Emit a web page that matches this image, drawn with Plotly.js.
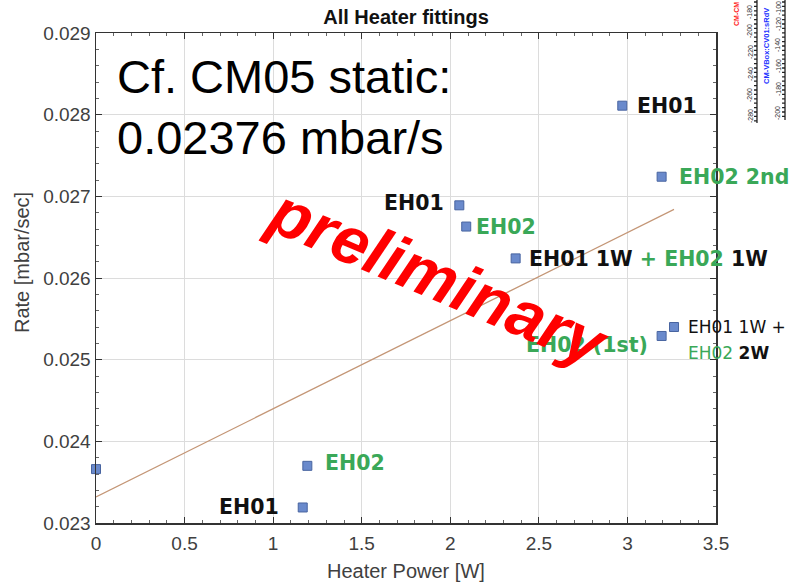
<!DOCTYPE html>
<html>
<head>
<meta charset="utf-8">
<script src="https://cdn.plot.ly/plotly-3.0.1.min.js"></script>
<style>
  html, body { margin: 0; padding: 0; background: #fff; }
  #chart { width: 790px; height: 583px; }
</style>
</head>
<body>
<div id="chart"></div>
<script>
// Leak rate vs. heater power, one point per heater fit
const powerW = [0, 1.193, 1.167, 2.051, 2.090, 2.369, 2.971, 3.193, 3.193, 3.263];
const rate   = [0.02366, 0.02370, 0.02319, 0.02689, 0.02663, 0.02624, 0.02811, 0.02724, 0.02529, 0.02540];

// Linear fit through the points (end values of the fitted line)
const fitPower = [0, 3.263];
const fitRate  = [0.02332, 0.02684];

// Axis ticks
const xTicks = [0, 0.5, 1, 1.5, 2, 2.5, 3, 3.5];
const yTicks = [0.023, 0.024, 0.025, 0.026, 0.027, 0.028, 0.029];

// Fragment of a neighbouring readout scale (top-right corner)
const scaleLeftLabels  = ['-280', '-260', '-240', '-220', '-200', '-180'];
const scaleRightLabels = ['-200', '-180', '-160', '-140', '-120', '-100'];

const GREEN = 'rgb(58,168,88)';
const INK = '#111';
const g = s => '<span style="color:' + GREEN + '">' + s + '</span>';

// Point labels: [point index, text, side, xshift, yshift, colour, size]
const labelSpecs = [
  [1, '<b>EH02</b>', 'left', 16, 3, GREEN, 20.5],
  [2, '<b>EH01</b>', 'right', -22, 0, INK, 20.5],
  [3, '<b>EH01</b>', 'right', -13, 2, INK, 20.5],
  [4, '<b>EH02</b>', 'left', 8, 0, GREEN, 20.5],
  [5, '<b>EH01 1W ' + g('+ EH02') + ' 1W</b>', 'left', 11, -1, INK, 20.5],
  [6, '<b>EH01</b>', 'left', 13, 0, INK, 20.5],
  [7, '<b>EH02 2nd</b>', 'left', 15, 0, GREEN, 20.5],
  [8, '<b>EH02 (1st)</b>', 'right', -12, -9, GREEN, 20.5],
  [9, 'EH01 1W +', 'left', 12, 0, INK, 17],
  [9, g('EH02') + ' <b>2W</b>', 'left', 12, -26, INK, 17]
];

// Plot-area geometry in pixels, used to place free-floating text
const L = 96, R = 716, T = 33, B = 523;
const px = x => (x - L) / (R - L);
const py = y => (B - y) / (B - T);

const annotations = labelSpecs.map(([i, text, side, xs, ys, color, size]) => ({
  x: powerW[i], y: rate[i], xref: 'x', yref: 'y',
  text: text, showarrow: false, align: 'left',
  xanchor: side, yanchor: 'middle', xshift: xs, yshift: ys,
  font: { family: 'DejaVu Sans', size: size, color: color }
}));

// Reference value note
annotations.push({
  xref: 'paper', yref: 'paper', x: px(115), y: py(77),
  xanchor: 'left', yanchor: 'middle', showarrow: false,
  text: 'Cf. CM05 static:',
  font: { family: 'Liberation Sans, Arial', size: 47, color: '#000' }
});
annotations.push({
  xref: 'paper', yref: 'paper', x: px(115), y: py(137),
  xanchor: 'left', yanchor: 'middle', showarrow: false,
  text: '0.02376 mbar/s',
  font: { family: 'Liberation Sans, Arial', size: 47, color: '#000' }
});

// Watermark
annotations.push({
  xref: 'paper', yref: 'paper', x: px(438), y: py(277),
  xanchor: 'center', yanchor: 'middle', showarrow: false,
  text: '<b><i>preliminary</i></b>', textangle: 23,
  font: { family: 'Liberation Sans, Arial', size: 66, color: '#ff0000' }
});

// Y-axis title
annotations.push({
  xref: 'paper', yref: 'paper', x: px(22), y: py(263),
  xanchor: 'center', yanchor: 'middle', showarrow: false,
  text: 'Rate [mbar/sec]', textangle: -90,
  font: { family: 'Liberation Sans, Arial', size: 20, color: '#404040' }
});

// X-axis title
annotations.push({
  xref: 'paper', yref: 'paper', x: px(406), y: py(571),
  xanchor: 'center', yanchor: 'middle', showarrow: false,
  text: 'Heater Power [W]',
  font: { family: 'Liberation Sans, Arial', size: 20, color: '#404040' }
});

// Corner scale fragment
const scaleLeftY = [116, 95, 74, 52, 31, 12];
const scaleRightY = [113, 89, 66, 45, 24, 8];
scaleLeftLabels.forEach((t, k) => annotations.push({
  xref: 'paper', yref: 'paper', x: px(750), y: py(scaleLeftY[k]),
  xanchor: 'center', yanchor: 'middle', showarrow: false, textangle: -90,
  text: t, font: { family: 'Liberation Sans, Arial', size: 7, color: '#333' }
}));
scaleRightLabels.forEach((t, k) => annotations.push({
  xref: 'paper', yref: 'paper', x: px(778), y: py(scaleRightY[k]),
  xanchor: 'center', yanchor: 'middle', showarrow: false, textangle: -90,
  text: t, font: { family: 'Liberation Sans, Arial', size: 7, color: '#333' }
}));
annotations.push({
  xref: 'paper', yref: 'paper', x: px(737), y: py(14),
  xanchor: 'center', yanchor: 'middle', showarrow: false, textangle: -90,
  text: '<b>CM-CM</b>', font: { family: 'Liberation Sans, Arial', size: 7, color: '#ff2020' }
});
annotations.push({
  xref: 'paper', yref: 'paper', x: px(767), y: py(46),
  xanchor: 'center', yanchor: 'middle', showarrow: false, textangle: -90,
  text: '<b>CM-VBox:CV01:sRdV</b>', font: { family: 'Liberation Sans, Arial', size: 7.5, color: '#2030ff' }
});

// Scale lines with ticks for the corner fragment
function scalePath(xLine, yEnd) {
  let d = 'M' + xLine + ',0 L' + xLine + ',' + yEnd;
  for (let y = 2; y <= yEnd; y += 4.4) {
    d += ' M' + (xLine - 3) + ',' + y.toFixed(1) + ' L' + xLine + ',' + y.toFixed(1);
  }
  return d;
}
function toPaperPath(d) {
  return d.replace(/(-?\d+(?:\.\d+)?),(-?\d+(?:\.\d+)?)/g,
    (m, a, b) => px(+a).toFixed(4) + ',' + py(+b).toFixed(4));
}
const shapes = [
  { type: 'path', xref: 'paper', yref: 'paper', path: toPaperPath(scalePath(757, 123)),
    line: { color: '#222', width: 1.3 } },
  { type: 'path', xref: 'paper', yref: 'paper', path: toPaperPath(scalePath(785, 120)),
    line: { color: '#222', width: 1.3 } }
];

const traces = [
  {
    x: fitPower, y: fitRate, type: 'scatter', mode: 'lines',
    line: { color: 'rgb(196,150,118)', width: 1.2 },
    hoverinfo: 'skip'
  },
  {
    x: powerW, y: rate, type: 'scatter', mode: 'markers',
    cliponaxis: false,
    marker: { symbol: 'square', size: 9, color: 'rgb(106,138,204)',
              line: { color: 'rgb(72,100,160)', width: 1 } }
  }
];

const axisFont = { family: 'Liberation Sans, Arial', size: 19, color: '#404040' };

const layout = {
  width: 790, height: 583,
  margin: { l: L, r: 790 - R, t: T, b: 583 - B },
  paper_bgcolor: '#fff', plot_bgcolor: '#fff',
  showlegend: false,
  title: {
    text: '<b>All Heater fittings</b>',
    x: px(406), xref: 'paper', xanchor: 'center',
    y: 1 - 17 / 583, yref: 'container', yanchor: 'middle',
    font: { family: 'Liberation Sans, Arial', size: 20, color: '#111' }
  },
  xaxis: {
    range: [0, 3.5], tickvals: xTicks, ticktext: xTicks.map(String),
    ticks: 'inside', ticklen: 6, tickcolor: '#333', tickwidth: 1,
    showline: true, linecolor: '#333', linewidth: 1.5, mirror: 'ticks',
    showgrid: true, gridcolor: '#dcdcdc', gridwidth: 1, zeroline: false,
    minor: { dtick: 0.1, ticks: 'inside', ticklen: 3, tickcolor: '#666', showgrid: false },
    tickfont: axisFont, ticklabelstandoff: 3
  },
  yaxis: {
    range: [0.023, 0.029], tickvals: yTicks, ticktext: yTicks.map(v => v.toFixed(3)),
    ticks: 'inside', ticklen: 6, tickcolor: '#333', tickwidth: 1,
    showline: true, linecolor: '#333', linewidth: 1.5, mirror: 'ticks',
    showgrid: true, gridcolor: '#dcdcdc', gridwidth: 1, zeroline: false,
    minor: { dtick: 0.0002, ticks: 'inside', ticklen: 3, tickcolor: '#666', showgrid: false },
    tickfont: axisFont
  },
  annotations: annotations,
  shapes: shapes
};

Plotly.newPlot('chart', traces, layout, { staticPlot: true, displayModeBar: false });
</script>
</body>
</html>
